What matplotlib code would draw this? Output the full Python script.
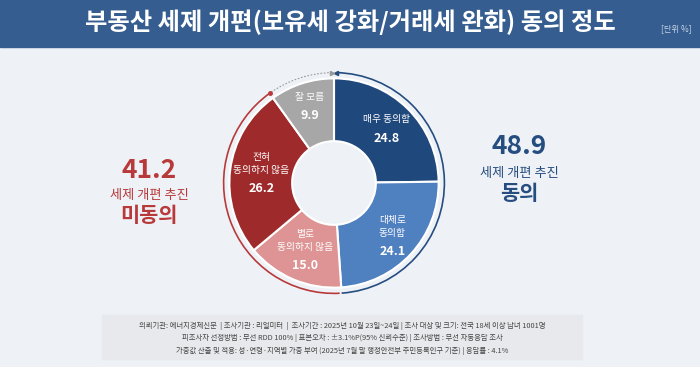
import numpy as np
import matplotlib
matplotlib.use("Agg")
from matplotlib import pyplot as plt
from matplotlib.patches import Rectangle, Arc

plt.rcParams['font.family'] = ['Noto Sans CJK KR', 'DejaVu Sans']

# data
labels = ['매우 동의함', '대체로\n동의함', '별로\n동의하지 않음', '전혀\n동의하지 않음', '잘 모름']
values = [24.8, 24.1, 15.0, 26.2, 9.9]
colors = ['#1f487d', '#4f80bf', '#de9494', '#9e2a2b', '#a7a7a7']
agree_total = 48.9
disagree_total = 41.2
title = '부동산 세제 개편(보유세 강화/거래세 완화) 동의 정도'
unit = '[단위 %]'
footer = ['의뢰기관: 에너지경제신문  | 조사기관 : 리얼미터  |  조사기간 : 2025년 10월 23일~24일 | 조사 대상 및 크기: 전국 18세 이상 남녀 1001명',
          '피조사자 선정방법 : 무선 RDD 100% | 표본오차 : ±3.1%P(95% 신뢰수준) | 조사방법 : 무선 자동응답 조사',
          '가중값 산출 및 적용: 성·연령·지역별 가중 부여 (2025년 7월 말 행정안전부 주민등록인구 기준) | 응답률 : 4.1%']

W, H = 700, 367
fig = plt.figure(figsize=(7, 3.67), dpi=100)
fig.patch.set_facecolor('#eef2f7')

# background axes in pixel coords
bg = fig.add_axes([0, 0, 1, 1])
bg.set_xlim(0, W)
bg.set_ylim(H, 0)
bg.axis('off')
bg.add_patch(Rectangle((0, 0), W, 47, color='#355d90'))
bg.text(350, 22, title, color='white', fontsize=17.5, fontweight='bold', ha='center', va='center')
bg.text(676, 29, unit, color='#c9d6e8', fontsize=6, ha='center', va='center')

# side totals
red = '#b8393a'
blue = '#264d80'
bg.text(149, 171, f'{disagree_total}', color=red, fontsize=19, fontweight='bold', ha='center', va='center')
bg.text(149, 195, '세제 개편 추진', color=red, fontsize=9.5, ha='center', va='center')
bg.text(149, 215, '미동의', color=red, fontsize=15, fontweight='bold', ha='center', va='center')
bg.text(519, 146, f'{agree_total}', color=blue, fontsize=19, fontweight='bold', ha='center', va='center')
bg.text(519, 173, '세제 개편 추진', color=blue, fontsize=9.5, ha='center', va='center')
bg.text(519, 193, '동의', color=blue, fontsize=15, fontweight='bold', ha='center', va='center')

# footer box
bg.add_patch(Rectangle((102, 315), 480, 44, color='#e8e9ec'))
for i, line in enumerate(footer):
    bg.text(342, 326 + i * 12.5, line, color='#444444', fontsize=5.3, ha='center', va='center')

# donut axes
cx, cy, R = 334, 183, 109
half = 1.2 * R
pie_ax = fig.add_axes([(cx - half) / W, (H - cy - half) / H, 2 * half / W, 2 * half / H])
pie_ax.set_xlim(-1.2, 1.2)
pie_ax.set_ylim(-1.2, 1.2)
pie_ax.axis('off')
wedges, _ = pie_ax.pie(values, colors=colors, startangle=90, counterclock=False, radius=1,
                       wedgeprops=dict(width=0.6, edgecolor='white', linewidth=1.5))

label_r = [0.72, 0.76, 0.7, 0.7, 0.76]
for w, lab, v, r in zip(wedges, labels, values, label_r):
    ang = np.deg2rad((w.theta1 + w.theta2) / 2)
    x, y = r * np.cos(ang), r * np.sin(ang)
    nl = lab.count('\n') + 1
    total = nl * 0.12 + 0.05 + 0.12
    pie_ax.text(x, y + total / 2, lab, color='white', fontsize=7, ha='center', va='top', linespacing=1.35)
    pie_ax.text(x, y - total / 2, f'{v}', color='white', fontsize=9, fontweight='bold', ha='center', va='bottom')

# outer arcs
rr = 2 * 1.055
a_start = 90 - agree_total * 3.6
g_start = 90 + values[-1] * 3.6
pie_ax.add_patch(Arc((0, 0), rr, rr, theta1=a_start, theta2=89, color=blue, lw=1.2))
pie_ax.add_patch(Arc((0, 0), rr, rr, theta1=g_start, theta2=360 + a_start - 1, color=red, lw=1.2))
pie_ax.add_patch(Arc((0, 0), rr, rr, theta1=91, theta2=g_start - 1, color='#999999', lw=0.8, ls=(0, (1.5, 1.5))))
pie_ax.plot([np.cos(np.deg2rad(89)) * 1.055], [np.sin(np.deg2rad(89)) * 1.055], marker='<', color=blue, ms=3)
pie_ax.plot([np.cos(np.deg2rad(g_start)) * 1.055], [np.sin(np.deg2rad(g_start)) * 1.055], marker='o', color=red, ms=2.5)
pie_ax.plot([np.cos(np.deg2rad(91)) * 1.055], [np.sin(np.deg2rad(91)) * 1.055], marker='>', color='#999999', ms=3)

fig.savefig('out.png', dpi=100, facecolor=fig.get_facecolor())
